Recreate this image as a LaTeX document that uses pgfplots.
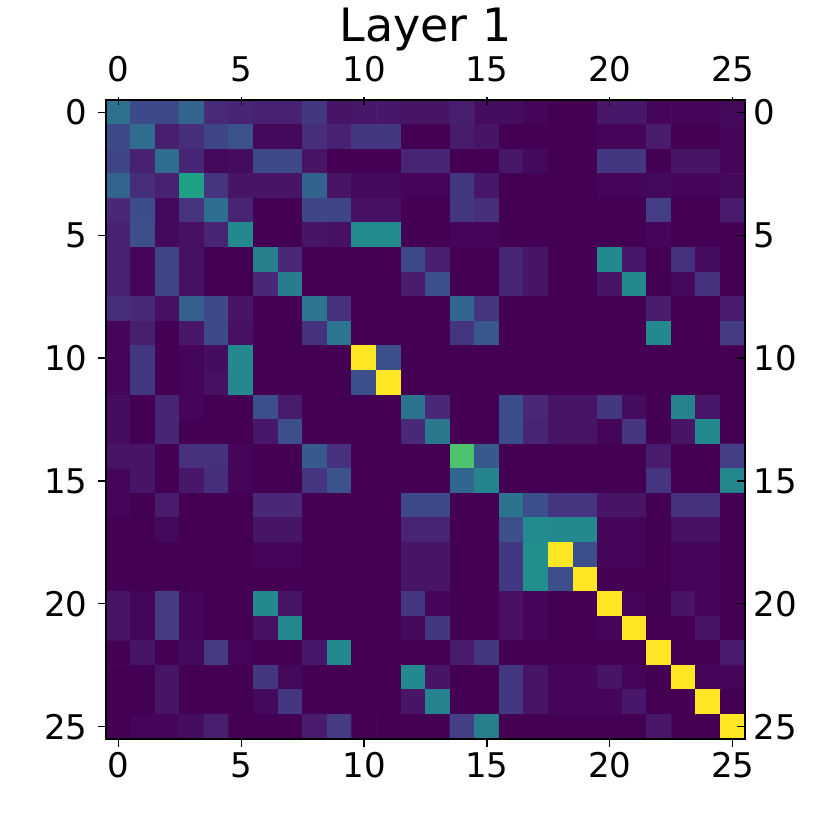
\documentclass[border=0pt]{standalone}
\usepackage{fontspec}
\setmainfont{DejaVu Sans}
\usepackage{pgfplots}
\pgfplotsset{compat=1.18}

\pgfplotsset{frame/.style={
scale only axis,width=319.5pt,height=319.5pt,
anchor=south west,at={(0pt,0pt)},
xmin=-0.5,xmax=25.5,ymin=-0.5,ymax=25.5,
y dir=reverse,
axis line style={line width=0.8pt},
xtick={0,5,...,25},ytick={0,5,...,25},
tick style={black,line width=0.6pt},
major tick length=4pt,
ticklabel style={font=\fontsize{17}{17}\selectfont,inner sep=0pt},
/pgf/number format/assume math mode=true,
}}

\begin{document}
\begin{tikzpicture}
\useasboundingbox (-53pt,-45.5pt) rectangle (362pt,369.5pt);
\begin{axis}[
frame,
tick align=outside,
tick pos=lower,
xticklabel pos=lower,yticklabel pos=lower,
xticklabel style={yshift=-2.5pt},
yticklabel style={xshift=-5pt},
colormap name=viridis,
point meta min=0,point meta max=1,
]
\addplot[matrix plot*,point meta=explicit,mesh/cols=26,mesh/rows=26] coordinates {
(0,0)[.37](1,0)[.22](2,0)[.22](3,0)[.32](4,0)[.12](5,0)[.10](6,0)[.09](7,0)[.09](8,0)[.16](9,0)[.05](10,0)[.06](11,0)[.06](12,0)[.05](13,0)[.05](14,0)[.08](15,0)[.03](16,0)[.03](17,0)[.01](18,0)[0](19,0)[0](20,0)[.06](21,0)[.06](22,0)[.01](23,0)[.01](24,0)[.01](25,0)[.02]

(0,1)[.22](1,1)[.35](2,1)[.08](3,1)[.13](4,1)[.21](5,1)[.25](6,1)[.02](7,1)[.02](8,1)[.13](9,1)[.09](10,1)[.16](11,1)[.16](12,1)[0](13,1)[0](14,1)[.07](15,1)[.05](16,1)[0](17,1)[0](18,1)[0](19,1)[0](20,1)[.01](21,1)[.01](22,1)[.07](23,1)[0](24,1)[0](25,1)[.01]

(0,2)[.21](1,2)[.09](2,2)[.35](3,2)[.10](4,2)[.02](5,2)[.03](6,2)[.22](7,2)[.22](8,2)[.05](9,2)[0](10,2)[0](11,2)[0](12,2)[.10](13,2)[.10](14,2)[0](15,2)[0](16,2)[.06](17,2)[.02](18,2)[0](19,2)[0](20,2)[.16](21,2)[.16](22,2)[0](23,2)[.05](24,2)[.05](25,2)[.01]

(0,3)[.32](1,3)[.13](2,3)[.09](3,3)[.57](4,3)[.15](5,3)[.05](6,3)[.05](7,3)[.05](8,3)[.31](9,3)[.05](10,3)[.02](11,3)[.02](12,3)[.01](13,3)[.01](14,3)[.16](15,3)[.06](16,3)[0](17,3)[0](18,3)[0](19,3)[0](20,3)[.01](21,3)[.01](22,3)[.02](23,3)[.01](24,3)[.01](25,3)[.02]

(0,4)[.11](1,4)[.23](2,4)[.02](3,4)[.15](4,4)[.36](5,4)[.10](6,4)[0](7,4)[0](8,4)[.21](9,4)[.21](10,4)[.04](11,4)[.04](12,4)[0](13,4)[0](14,4)[.16](15,4)[.13](16,4)[0](17,4)[0](18,4)[0](19,4)[0](20,4)[0](21,4)[0](22,4)[.18](23,4)[0](24,4)[0](25,4)[.07]

(0,5)[.09](1,5)[.24](2,5)[.02](3,5)[.04](4,5)[.10](5,5)[.47](6,5)[0](7,5)[0](8,5)[.05](9,5)[.04](10,5)[.48](11,5)[.48](12,5)[0](13,5)[0](14,5)[.01](15,5)[.01](16,5)[0](17,5)[0](18,5)[0](19,5)[0](20,5)[0](21,5)[0](22,5)[.01](23,5)[0](24,5)[0](25,5)[0]

(0,6)[.09](1,6)[.01](2,6)[.21](3,6)[.04](4,6)[0](5,6)[0](6,6)[.43](7,6)[.11](8,6)[0](9,6)[0](10,6)[0](11,6)[0](12,6)[.22](13,6)[.08](14,6)[0](15,6)[0](16,6)[.10](17,6)[.05](18,6)[0](19,6)[0](20,6)[.47](21,6)[.06](22,6)[0](23,6)[.14](24,6)[.03](25,6)[0]

(0,7)[.09](1,7)[.01](2,7)[.21](3,7)[.04](4,7)[0](5,7)[0](6,7)[.11](7,7)[.41](8,7)[0](9,7)[0](10,7)[0](11,7)[0](12,7)[.07](13,7)[.24](14,7)[0](15,7)[0](16,7)[.10](17,7)[.05](18,7)[0](19,7)[0](20,7)[.05](21,7)[.47](22,7)[0](23,7)[.02](24,7)[.14](25,7)[0]

(0,8)[.13](1,8)[.11](2,8)[.04](3,8)[.30](4,8)[.22](5,8)[.05](6,8)[0](7,8)[0](8,8)[.39](9,8)[.14](10,8)[0](11,8)[0](12,8)[0](13,8)[0](14,8)[.33](15,8)[.15](16,8)[0](17,8)[0](18,8)[0](19,8)[0](20,8)[0](21,8)[0](22,8)[.07](23,8)[0](24,8)[0](25,8)[.07]

(0,9)[.01](1,9)[.08](2,9)[0](3,9)[.06](4,9)[.22](5,9)[.04](6,9)[0](7,9)[0](8,9)[.14](9,9)[.39](10,9)[0](11,9)[0](12,9)[0](13,9)[0](14,9)[.15](15,9)[.27](16,9)[0](17,9)[0](18,9)[0](19,9)[0](20,9)[0](21,9)[0](22,9)[.47](23,9)[0](24,9)[0](25,9)[.17]

(0,10)[.01](1,10)[.16](2,10)[0](3,10)[.01](4,10)[.03](5,10)[.47](6,10)[0](7,10)[0](8,10)[0](9,10)[0](10,10)[1](11,10)[.24](12,10)[0](13,10)[0](14,10)[0](15,10)[0](16,10)[0](17,10)[0](18,10)[0](19,10)[0](20,10)[0](21,10)[0](22,10)[0](23,10)[0](24,10)[0](25,10)[0]

(0,11)[.01](1,11)[.16](2,11)[0](3,11)[.01](4,11)[.04](5,11)[.47](6,11)[0](7,11)[0](8,11)[0](9,11)[0](10,11)[.24](11,11)[1](12,11)[0](13,11)[0](14,11)[0](15,11)[0](16,11)[0](17,11)[0](18,11)[0](19,11)[0](20,11)[0](21,11)[0](22,11)[0](23,11)[0](24,11)[0](25,11)[0]

(0,12)[.03](1,12)[0](2,12)[.10](3,12)[.01](4,12)[0](5,12)[0](6,12)[.24](7,12)[.07](8,12)[0](9,12)[0](10,12)[0](11,12)[0](12,12)[.38](13,12)[.11](14,12)[0](15,12)[0](16,12)[.23](17,12)[.11](18,12)[.05](19,12)[.05](20,12)[.16](21,12)[.03](22,12)[0](23,12)[.44](24,12)[.06](25,12)[0]

(0,13)[.03](1,13)[0](2,13)[.10](3,13)[0](4,13)[0](5,13)[0](6,13)[.06](7,13)[.24](8,13)[0](9,13)[0](10,13)[0](11,13)[0](12,13)[.11](13,13)[.40](14,13)[0](15,13)[0](16,13)[.23](17,13)[.10](18,13)[.05](19,13)[.05](20,13)[.01](21,13)[.15](22,13)[0](23,13)[.05](24,13)[.47](25,13)[0]

(0,14)[.05](1,14)[.05](2,14)[0](3,14)[.14](4,14)[.14](5,14)[.01](6,14)[0](7,14)[0](8,14)[.28](9,14)[.14](10,14)[0](11,14)[0](12,14)[0](13,14)[0](14,14)[.72](15,14)[.28](16,14)[0](17,14)[0](18,14)[0](19,14)[0](20,14)[0](21,14)[0](22,14)[.07](23,14)[0](24,14)[0](25,14)[.18]

(0,15)[.01](1,15)[.05](2,15)[0](3,15)[.06](4,15)[.13](5,15)[.01](6,15)[0](7,15)[0](8,15)[.15](9,15)[.25](10,15)[0](11,15)[0](12,15)[0](13,15)[0](14,15)[.33](15,15)[.45](16,15)[0](17,15)[0](18,15)[0](19,15)[0](20,15)[0](21,15)[0](22,15)[.15](23,15)[0](24,15)[0](25,15)[.46]

(0,16)[.01](1,16)[0](2,16)[.07](3,16)[0](4,16)[0](5,16)[0](6,16)[.11](7,16)[.11](8,16)[0](9,16)[0](10,16)[0](11,16)[0](12,16)[.22](13,16)[.22](14,16)[0](15,16)[0](16,16)[.38](17,16)[.24](18,16)[.15](19,16)[.15](20,16)[.05](21,16)[.05](22,16)[0](23,16)[.14](24,16)[.14](25,16)[0]

(0,17)[0](1,17)[0](2,17)[.02](3,17)[0](4,17)[0](5,17)[0](6,17)[.05](7,17)[.05](8,17)[0](9,17)[0](10,17)[0](11,17)[0](12,17)[.10](13,17)[.10](14,17)[0](15,17)[0](16,17)[.24](17,17)[.48](18,17)[.47](19,17)[.47](20,17)[.01](21,17)[.01](22,17)[0](23,17)[.04](24,17)[.04](25,17)[0]

(0,18)[0](1,18)[0](2,18)[0](3,18)[0](4,18)[0](5,18)[0](6,18)[.01](7,18)[.01](8,18)[0](9,18)[0](10,18)[0](11,18)[0](12,18)[.05](13,18)[.05](14,18)[0](15,18)[0](16,18)[.16](17,18)[.50](18,18)[1](19,18)[.24](20,18)[.01](21,18)[.01](22,18)[0](23,18)[.01](24,18)[.01](25,18)[0]

(0,19)[0](1,19)[0](2,19)[0](3,19)[0](4,19)[0](5,19)[0](6,19)[0](7,19)[0](8,19)[0](9,19)[0](10,19)[0](11,19)[0](12,19)[.05](13,19)[.05](14,19)[0](15,19)[0](16,19)[.16](17,19)[.50](18,19)[.24](19,19)[1](20,19)[0](21,19)[0](22,19)[0](23,19)[.01](24,19)[.01](25,19)[0]

(0,20)[.05](1,20)[.01](2,20)[.17](3,20)[.01](4,20)[0](5,20)[0](6,20)[.47](7,20)[.05](8,20)[0](9,20)[0](10,20)[0](11,20)[0](12,20)[.16](13,20)[.01](14,20)[0](15,20)[0](16,20)[.04](17,20)[.01](18,20)[0](19,20)[0](20,20)[1](21,20)[.01](22,20)[0](23,20)[.05](24,20)[.01](25,20)[0]

(0,21)[.05](1,21)[.01](2,21)[.17](3,21)[.01](4,21)[0](5,21)[0](6,21)[.04](7,21)[.46](8,21)[0](9,21)[0](10,21)[0](11,21)[0](12,21)[.02](13,21)[.16](14,21)[0](15,21)[0](16,21)[.04](17,21)[.01](18,21)[0](19,21)[0](20,21)[.01](21,21)[1](22,21)[0](23,21)[0](24,21)[.05](25,21)[0]

(0,22)[0](1,22)[.05](2,22)[0](3,22)[.02](4,22)[.17](5,22)[.01](6,22)[0](7,22)[0](8,22)[.06](9,22)[.47](10,22)[0](11,22)[0](12,22)[0](13,22)[0](14,22)[.07](15,22)[.16](16,22)[0](17,22)[0](18,22)[0](19,22)[0](20,22)[0](21,22)[0](22,22)[1](23,22)[0](24,22)[0](25,22)[.07]

(0,23)[0](1,23)[0](2,23)[.05](3,23)[0](4,23)[0](5,23)[0](6,23)[.16](7,23)[.02](8,23)[0](9,23)[0](10,23)[0](11,23)[0](12,23)[.47](13,23)[.05](14,23)[0](15,23)[0](16,23)[.16](17,23)[.05](18,23)[.01](19,23)[.01](20,23)[.05](21,23)[.01](22,23)[0](23,23)[1](24,23)[.01](25,23)[.01]

(0,24)[0](1,24)[0](2,24)[.05](3,24)[0](4,24)[0](5,24)[0](6,24)[.02](7,24)[.16](8,24)[0](9,24)[0](10,24)[0](11,24)[0](12,24)[.05](13,24)[.44](14,24)[0](15,24)[0](16,24)[.16](17,24)[.05](18,24)[.01](19,24)[.01](20,24)[.01](21,24)[.06](22,24)[0](23,24)[0](24,24)[1](25,24)[0]

(0,25)[0](1,25)[.01](2,25)[.01](3,25)[.03](4,25)[.08](5,25)[0](6,25)[0](7,25)[0](8,25)[.07](9,25)[.17](10,25)[0](11,25)[0](12,25)[0](13,25)[0](14,25)[.18](15,25)[.43](16,25)[0](17,25)[0](18,25)[0](19,25)[0](20,25)[0](21,25)[0](22,25)[.06](23,25)[0](24,25)[0](25,25)[1]
};
\end{axis}
\begin{axis}[
frame,
tick align=inside,
tick pos=upper,
xticklabel pos=upper,yticklabel pos=upper,
x tick style={yshift=1.5pt},
xticklabel style={yshift=9pt},
yticklabel style={xshift=4pt},
title={Layer 1},
title style={font=\fontsize{23}{23}\selectfont,yshift=15pt},
]
\addplot[draw=none] coordinates {(0,0)};
\end{axis}
\end{tikzpicture}
\end{document}
